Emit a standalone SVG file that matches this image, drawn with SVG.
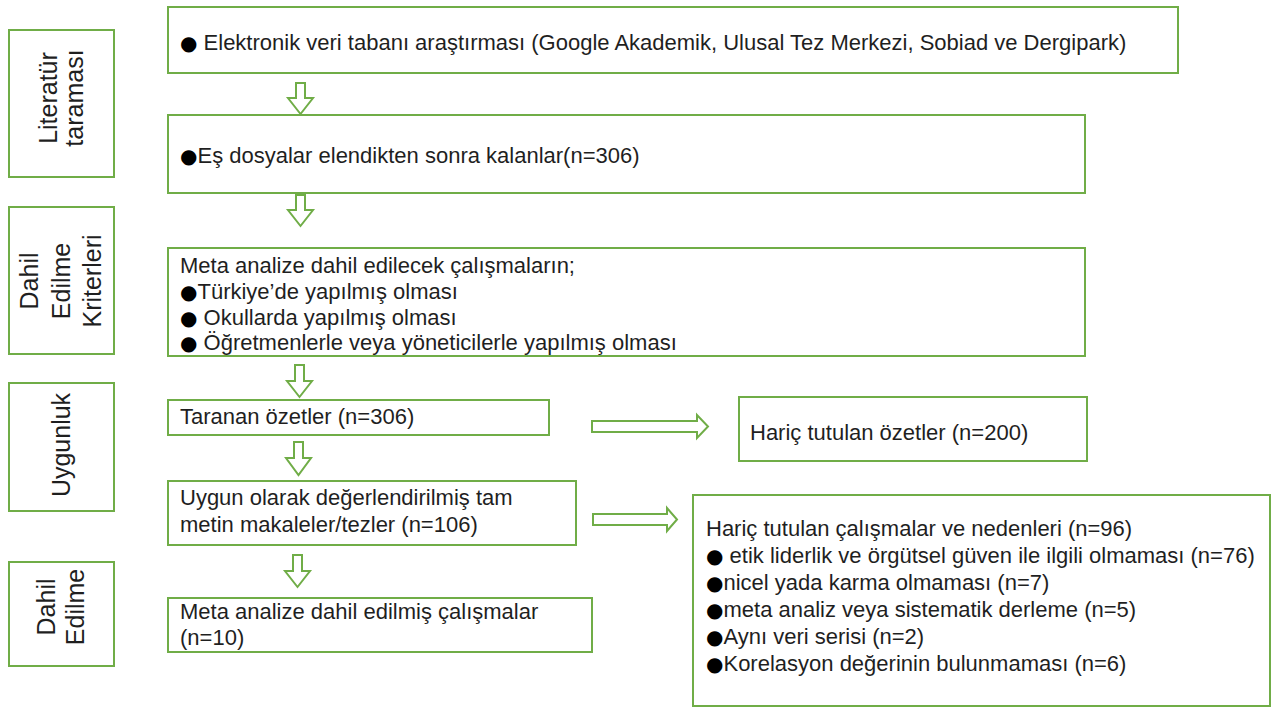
<svg xmlns="http://www.w3.org/2000/svg" width="1272" height="707" viewBox="0 0 1272 707">
<style>
.box{fill:#ffffff;stroke:#70AD47;stroke-width:2}
.arr{fill:#ffffff;stroke:#70AD47;stroke-width:2;stroke-linejoin:miter}
.t{font-family:"Liberation Sans",Arial,sans-serif;font-size:22px;fill:#1f1f1f}
.b{font-family:"DejaVu Sans",sans-serif;font-size:20px;fill:#000000}
.v{font-family:"Liberation Sans",Arial,sans-serif;font-size:25px;fill:#1f1f1f;text-anchor:middle}
</style>
<rect width="1272" height="707" fill="#ffffff"/>
<g id="label-literatur">
<rect class="box" x="9" y="30" width="105" height="147"/>
<text class="v" transform="translate(57,98) rotate(-90)">Literatür</text>
<text class="v" transform="translate(83,98) rotate(-90)">taraması</text>
</g>
<g id="label-dahil-kriter">
<rect class="box" x="9" y="207" width="105" height="147"/>
<text class="v" transform="translate(38,281) rotate(-90)">Dahil</text>
<text class="v" transform="translate(70,281) rotate(-90)">Edilme</text>
<text class="v" transform="translate(101,281) rotate(-90)">Kriterleri</text>
</g>
<g id="label-uygunluk">
<rect class="box" x="9" y="383" width="105" height="128"/>
<text class="v" transform="translate(70,445) rotate(-90)">Uygunluk</text>
</g>
<g id="label-dahil-edilme">
<rect class="box" x="9" y="562" width="105" height="104"/>
<text class="v" transform="translate(55,607) rotate(-90)">Dahil</text>
<text class="v" transform="translate(84,607) rotate(-90)">Edilme</text>
</g>
<g id="n-elektronik">
<rect class="box" x="168" y="7" width="1010" height="66"/>
<text class="t" x="180" y="50"><tspan class="b">●</tspan> Elektronik veri tabanı araştırması (Google Akademik, Ulusal Tez Merkezi, Sobiad ve Dergipark)</text>
</g>
<g id="n-es-dosyalar">
<rect class="box" x="168" y="115" width="917" height="78"/>
<text class="t" x="180" y="163"><tspan class="b">●</tspan>Eş dosyalar elendikten sonra kalanlar(n=306)</text>
</g>
<g id="n-kriterler">
<rect class="box" x="168" y="248" width="917" height="108"/>
<text class="t" x="180" y="273">Meta analize dahil edilecek çalışmaların;</text>
<text class="t" x="180" y="299"><tspan class="b">●</tspan>Türkiye’de yapılmış olması</text>
<text class="t" x="180" y="325"><tspan class="b">●</tspan> Okullarda yapılmış olması</text>
<text class="t" x="180" y="350"><tspan class="b">●</tspan> Öğretmenlerle veya yöneticilerle yapılmış olması</text>
</g>
<g id="n-taranan">
<rect class="box" x="168" y="400" width="381" height="35"/>
<text class="t" x="180" y="424">Taranan özetler (n=306)</text>
</g>
<g id="n-haric-ozet">
<rect class="box" x="739" y="397" width="348" height="64"/>
<text class="t" x="750" y="440">Hariç tutulan özetler (n=200)</text>
</g>
<g id="n-uygun">
<rect class="box" x="168" y="481" width="408" height="64"/>
<text class="t" x="180" y="505">Uygun olarak değerlendirilmiş tam</text>
<text class="t" x="180" y="532">metin makaleler/tezler (n=106)</text>
</g>
<g id="n-haric-calisma">
<rect class="box" x="693" y="495" width="577" height="211"/>
<text class="t" x="706" y="536">Hariç tutulan çalışmalar ve nedenleri (n=96)</text>
<text class="t" x="706" y="563"><tspan class="b">●</tspan> etik liderlik ve örgütsel güven ile ilgili olmaması (n=76)</text>
<text class="t" x="706" y="590"><tspan class="b">●</tspan>nicel yada karma olmaması (n=7)</text>
<text class="t" x="706" y="617"><tspan class="b">●</tspan>meta analiz veya sistematik derleme (n=5)</text>
<text class="t" x="706" y="644"><tspan class="b">●</tspan>Aynı veri serisi (n=2)</text>
<text class="t" x="706" y="671"><tspan class="b">●</tspan>Korelasyon değerinin bulunmaması (n=6)</text>
</g>
<g id="n-dahil-edilmis">
<rect class="box" x="168" y="598" width="424" height="54"/>
<text class="t" x="180" y="619">Meta analize dahil edilmiş çalışmalar</text>
<text class="t" x="180" y="645">(n=10)</text>
</g>
<g id="connectors">
<path class="arr" d="M296,83 H305 V98 H313 L300.5,114 L288,98 H296 Z"/>
<path class="arr" d="M296,195 H305 V210 H313 L300.5,226 L288,210 H296 Z"/>
<path class="arr" d="M295,365 H304 V381 H312 L299.5,397 L287,381 H295 Z"/>
<path class="arr" d="M294,442 H303 V458 H311 L298.5,475 L286,458 H294 Z"/>
<path class="arr" d="M293,555 H302 V571 H310 L297.5,587 L285,571 H293 Z"/>
<path class="arr" d="M592,421 H697 V415 L708,426.5 L697,438 V432 H592 Z"/>
<path class="arr" d="M593,514 H667 V508 L677,519.5 L667,531 V525 H593 Z"/>
</g>
</svg>
